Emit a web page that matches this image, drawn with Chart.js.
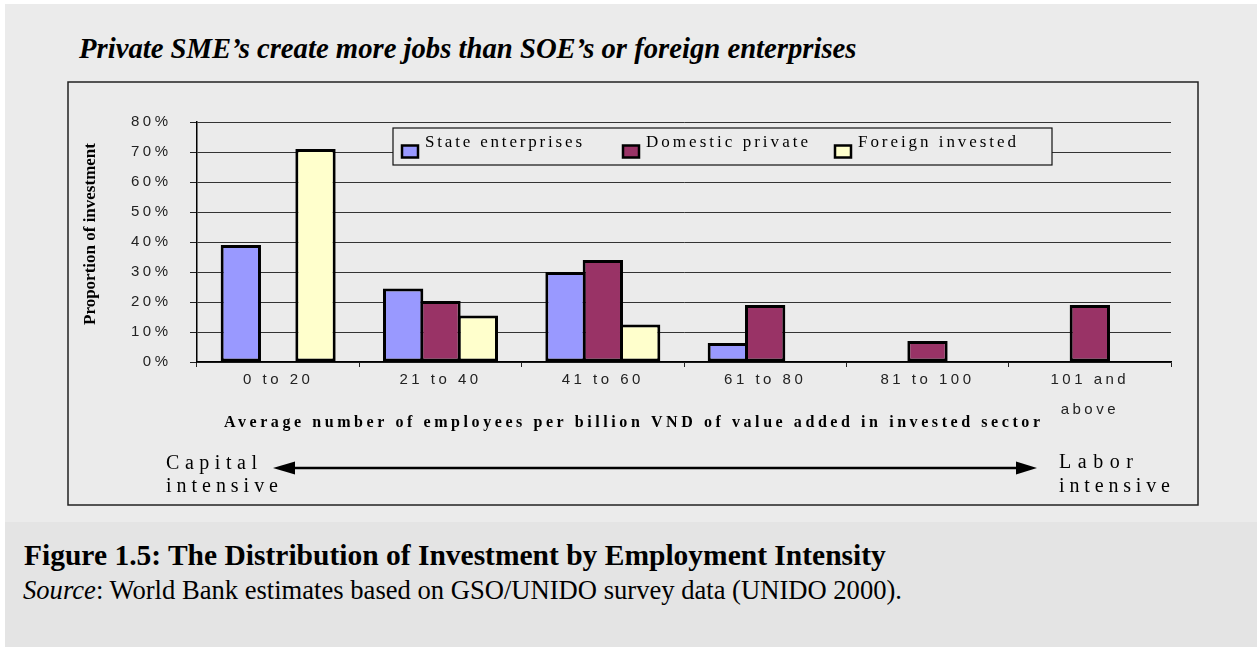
<!DOCTYPE html>
<html lang="en">
<head>
  <meta charset="UTF-8" />
  <title>Distribution of Investment by Employment Intensity</title>
  <style>
    body { margin: 0; background: #fff; }
    #page { position: relative; width: 1257px; height: 647px; overflow: hidden; }
    #top { position: absolute; left: 5px; top: 4px; width: 1252px; height: 518px; background: #ebebeb; }
    #bottom { position: absolute; left: 5px; top: 522px; width: 1252px; height: 125px; background: #e4e4e4; }
    #wrap { position: absolute; left: 0; top: 0; width: 1257px; height: 522px; }
    .txt { position: absolute; font-family: "Liberation Serif", "Times New Roman", serif; color: #000; line-height: 1; white-space: nowrap; }
    #title { left: 79px; top: 34px; font-size: 28.7px; font-weight: bold; font-style: italic; }
    #fig { left: 24px; top: 541px; font-size: 29.5px; font-weight: bold; }
    #src { left: 23px; top: 577px; font-size: 26.6px; }
  </style>
</head>
<body>
  <div id="page">
    <div id="top"></div>
    <div id="bottom"></div>
    <div id="title" class="txt">Private SME’s create more jobs than SOE’s or foreign enterprises</div>
    <div id="wrap"><canvas id="myChart"></canvas></div>
    <div id="fig" class="txt">Figure 1.5: The Distribution of Investment by Employment Intensity</div>
    <div id="src" class="txt"><i>Source</i>: World Bank estimates based on GSO/UNIDO survey data (UNIDO 2000).</div>
  </div>

  <script src="https://cdn.jsdelivr.net/npm/chart.js"></script>
  <script>
const categories = ['0 to 20', '21 to 40', '41 to 60', '61 to 80', '81 to 100', ['101 and', 'above']];
const stateShare = [39, 24.5, 30, 6.3, 0, 0];
const domesticShare = [0, 20.3, 34, 19, 7, 19];
const foreignShare = [71, 15.5, 12.5, 0, 0, 0];
const seriesNames = ['State enterprises', 'Domestic private', 'Foreign invested'];
const seriesColors = ['#9999ff', '#993366', '#ffffcc'];

const SERIF = '"Liberation Serif", "Times New Roman", serif';

// draw text stretched to a given width by spreading the letters
function spacedText(ctx, text, x, y, width, align) {
  ctx.letterSpacing = '0px';
  const w = ctx.measureText(text).width;
  const gap = (width - w) / (text.length - 1);
  ctx.letterSpacing = gap + 'px';
  ctx.textAlign = 'left';
  ctx.fillText(text, align === 'center' ? x - width / 2 : x, y);
  ctx.letterSpacing = '0px';
}

const decorations = {
  id: 'decorations',
  beforeDraw(chart) {
    const ctx = chart.ctx;
    // outer frame of the chart
    ctx.save();
    ctx.strokeStyle = '#222';
    ctx.lineWidth = 1.5;
    ctx.strokeRect(68, 82, 1130, 423);
    ctx.restore();
    // tick labels are letter spaced
    ctx.letterSpacing = '3.5px';
  },
  afterDraw(chart) {
    const ctx = chart.ctx;
    ctx.save();
    ctx.fillStyle = '#000';
    ctx.textBaseline = 'alphabetic';

    // y axis title
    ctx.save();
    ctx.translate(95, 234);
    ctx.rotate(-Math.PI / 2);
    ctx.font = 'bold 17px ' + SERIF;
    ctx.letterSpacing = '0px';
    ctx.textAlign = 'center';
    ctx.fillText('Proportion of investment', 0, 0);
    ctx.restore();

    // x axis title
    ctx.font = 'bold 16px ' + SERIF;
    spacedText(ctx, 'Average number of employees per billion VND of value added in invested sector', 224, 427, 816, 'left');

    // legend
    const box = { x: 393, y: 128, w: 659, h: 37 };
    ctx.fillStyle = '#ebebeb';
    ctx.fillRect(box.x, box.y, box.w, box.h);
    ctx.strokeStyle = '#111';
    ctx.lineWidth = 1.2;
    ctx.strokeRect(box.x, box.y, box.w, box.h);
    const swatchX = [402, 623, 835];
    const textW = [157, 162, 158];
    ctx.font = '17px ' + SERIF;
    chart.data.datasets.forEach((ds, i) => {
      ctx.fillStyle = ds.backgroundColor;
      ctx.fillRect(swatchX[i], 145.5, 16, 12);
      ctx.strokeStyle = '#000';
      ctx.lineWidth = 2.5;
      ctx.strokeRect(swatchX[i], 145.5, 16, 12);
      ctx.fillStyle = '#000';
      spacedText(ctx, ds.label, swatchX[i] + 23, 147, textW[i], 'left');
    });

    // capital / labor intensity arrow
    ctx.strokeStyle = '#000';
    ctx.lineWidth = 2.5;
    ctx.beginPath();
    ctx.moveTo(292, 468);
    ctx.lineTo(1020, 468);
    ctx.stroke();
    ctx.fillStyle = '#000';
    ctx.beginPath();
    ctx.moveTo(273, 468);
    ctx.lineTo(295, 461.5);
    ctx.lineTo(295, 474.5);
    ctx.closePath();
    ctx.fill();
    ctx.beginPath();
    ctx.moveTo(1037, 468);
    ctx.lineTo(1016, 461.5);
    ctx.lineTo(1016, 474.5);
    ctx.closePath();
    ctx.fill();

    ctx.font = '20px ' + SERIF;
    spacedText(ctx, 'Capital', 166, 469, 91, 'left');
    spacedText(ctx, 'intensive', 166, 492, 112, 'left');
    spacedText(ctx, 'Labor', 1059, 468, 74, 'left');
    spacedText(ctx, 'intensive', 1059, 492, 111, 'left');
    ctx.restore();
    ctx.letterSpacing = '0px';
  }
};

const ctx = document.getElementById('myChart');

new Chart(ctx, {
  type: 'bar',
  data: {
    labels: categories,
    datasets: [stateShare, domesticShare, foreignShare].map((values, i) => ({
      label: seriesNames[i],
      data: values,
      backgroundColor: seriesColors[i],
      borderColor: '#000',
      borderWidth: 3,
      borderSkipped: false,
      categoryPercentage: 0.69,
      barPercentage: 1.08
    }))
  },
  options: {
    responsive: true,
    maintainAspectRatio: false,
    animation: false,
    layout: { padding: { left: 0, top: 122, right: 86, bottom: 0 } },
    plugins: {
      legend: { display: false },
      tooltip: { enabled: false }
    },
    scales: {
      x: {
        afterFit(scale) { scale.height = 160; },
        grid: { drawOnChartArea: false, tickLength: 5, color: '#222', offset: true },
        border: { color: '#000', width: 1.5 },
        ticks: {
          autoSkip: false,
          maxRotation: 0,
          padding: -1.5,
          color: '#222',
          font: { family: '"Liberation Sans", Arial, sans-serif', size: 15, lineHeight: 1.95 }
        }
      },
      y: {
        min: 0,
        max: 80,
        afterFit(scale) { scale.width = 197; },
        grid: { color: '#333', lineWidth: 1, tickLength: 7, tickColor: '#222' },
        border: { color: '#000', width: 1.5 },
        ticks: {
          stepSize: 10,
          padding: 18.5,
          color: '#222',
          font: { family: '"Liberation Sans", Arial, sans-serif', size: 15 },
          callback: (v) => v + '%'
        }
      }
    }
  },
  plugins: [decorations]
});
  </script>
</body>
</html>
